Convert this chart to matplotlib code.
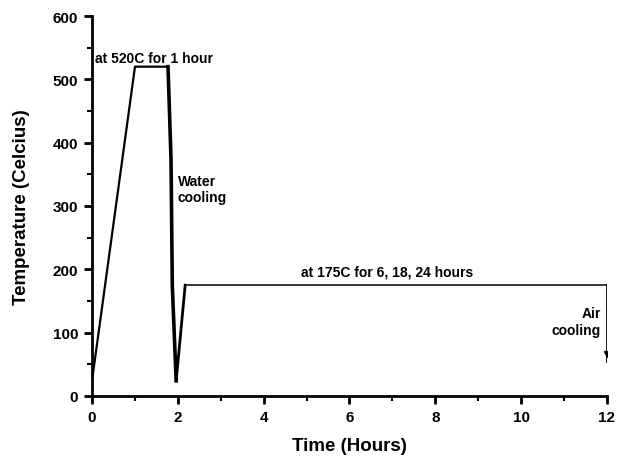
import matplotlib.pyplot as plt
from matplotlib.ticker import MultipleLocator

plt.rcParams['font.family'] = ['Liberation Sans', 'DejaVu Sans']
plt.rcParams['font.weight'] = 'bold'

# heat treatment profile
heat_t = [0.0, 1.0, 1.77]
heat_T = [25, 520, 520]
quench_t = [1.77, 1.84, 1.87, 1.96]
quench_T = [520, 374, 174, 24]
reheat_t = [1.96, 2.03, 2.17]
reheat_T = [24, 74, 175]
age_t = [2.17, 12.0]
age_T = [175, 175]
air_t = [12.0, 12.0]
air_T = [175, 55]

labels = {
    'at 520C for 1 hour': (0.07, 528, 'left', 'baseline'),
    'Water\ncooling': (2.0, 351, 'left', 'top'),
    'at 175C for 6, 18, 24 hours': (6.88, 185, 'center', 'bottom'),
    'Air\ncooling': (11.86, 142, 'right', 'top'),
}

fig = plt.figure(figsize=(6.18, 4.60), dpi=100)
ax = fig.add_axes([0.149, 0.137, 0.833, 0.826])

ax.plot(heat_t, heat_T, color='black', lw=1.6)
ax.plot(quench_t, quench_T, color='black', lw=2.6)
ax.plot(reheat_t, reheat_T, color='black', lw=2.0)
ax.plot(age_t, age_T, color='black', lw=1.1)
ax.plot(air_t, air_T, color='black', lw=2.0)
ax.plot(air_t[-1], air_T[-1] + 12, marker='v', color='black', ms=4)

for txt, (x, y, ha, va) in labels.items():
    ax.text(x, y, txt, ha=ha, va=va, fontsize=10, fontweight='bold',
            linespacing=1.25)

ax.set_xlim(0, 12)
ax.set_ylim(0, 600)
ax.xaxis.set_major_locator(MultipleLocator(2))
ax.xaxis.set_minor_locator(MultipleLocator(1))
ax.yaxis.set_major_locator(MultipleLocator(100))
ax.yaxis.set_minor_locator(MultipleLocator(50))

for s in ['top', 'right']:
    ax.spines[s].set_visible(False)
for s in ['left', 'bottom']:
    ax.spines[s].set_linewidth(2)

ax.tick_params(which='major', direction='out', length=6, width=2,
               labelsize=11, pad=4)
ax.tick_params(which='minor', direction='out', length=3.5, width=1.5)
for lab in ax.get_xticklabels() + ax.get_yticklabels():
    lab.set_fontweight('bold')

ax.set_xlabel('Time (Hours)', fontsize=13.5, fontweight='bold')
ax.set_ylabel('Temperature (Celcius)', fontsize=13.5, fontweight='bold')
ax.xaxis.set_label_coords(0.5, -0.108)
ax.yaxis.set_label_coords(-0.12, 0.5)

fig.savefig('out.png', dpi=100)
